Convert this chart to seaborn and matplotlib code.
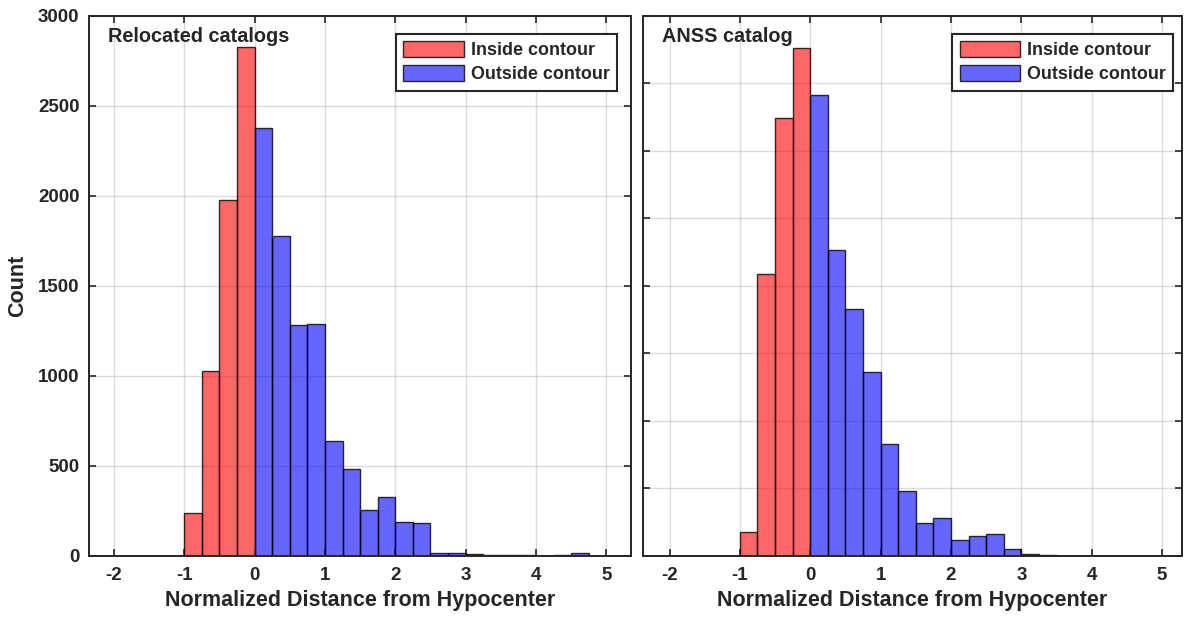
import numpy as np
import pandas as pd
import matplotlib.pyplot as plt
import seaborn as sns
from matplotlib.patches import Patch

sns.set_style("ticks")
plt.rcParams['font.family'] = ['Liberation Sans', 'DejaVu Sans']
plt.rcParams['font.weight'] = 'bold'
plt.rcParams['axes.labelweight'] = 'bold'
plt.rcParams['axes.unicode_minus'] = False

# histogram bins (normalized distance, width 0.25)
bin_width = 0.25
inside_edges = np.arange(-2.0, 0.0 + 1e-9, bin_width)
reloc_outside_edges = np.arange(0.0, 5.0 + 1e-9, bin_width)
anss_outside_edges = np.arange(0.0, 3.5 + 1e-9, bin_width)

# counts
reloc_inside = [0, 0, 0, 0, 240, 1025, 1980, 2830]
reloc_outside = [2375, 1780, 1285, 1290, 640, 485, 255, 330, 190, 185,
                 15, 18, 10, 8, 6, 3, 1, 6, 14, 1]
anss_inside = [0, 0, 0, 0, 175, 2090, 3245, 3765]
anss_outside = [3415, 2265, 1830, 1360, 830, 480, 245, 280, 120, 145,
                160, 50, 12, 4]

titles = ["Relocated catalogs", "ANSS catalog"]
legend_labels = ["Inside contour", "Outside contour"]
xticks = [-2, -1, 0, 1, 2, 3, 4, 5]

red_face = (1, 0, 0, 0.6)
blue_face = (0, 0, 1, 0.6)
edge = (0, 0, 0, 0.8)


def draw_hist(ax, counts, edges, face):
    df = pd.DataFrame({"dist": edges[:-1] + bin_width / 2, "n": counts})
    sns.histplot(data=df, x="dist", weights="n", bins=list(edges), ax=ax,
                 facecolor=face, edgecolor=edge, linewidth=1.0, zorder=2)


def style_axes(ax, yticks, ylim, xlim, show_ylabels):
    ax.set_xlim(*xlim)
    ax.set_ylim(*ylim)
    ax.set_xticks(xticks)
    ax.set_yticks(yticks)
    ax.set_axisbelow(True)
    ax.grid(True, color='0.55', alpha=0.3, linewidth=1.0)
    ax.tick_params(direction='in', top=True, right=True, length=5, width=1.2,
                   labelsize=13.5, color='#262626')
    ax.tick_params(axis='x', pad=8)
    ax.tick_params(axis='y', pad=7)
    if not show_ylabels:
        ax.set_yticklabels([])
    for s in ax.spines.values():
        s.set_linewidth(1.4)
        s.set_color('#262626')
    ax.set_xlabel("Normalized Distance from Hypocenter", fontsize=15.5, labelpad=4)


fig = plt.figure(figsize=(11.87, 6.21), dpi=100)
ax1 = fig.add_axes([0.0752, 0.1047, 0.4564, 0.8696])
ax2 = fig.add_axes([0.5415, 0.1047, 0.4541, 0.8696])

draw_hist(ax1, reloc_inside, inside_edges, red_face)
draw_hist(ax1, reloc_outside, reloc_outside_edges, blue_face)
draw_hist(ax2, anss_inside, inside_edges, red_face)
draw_hist(ax2, anss_outside, anss_outside_edges, blue_face)

style_axes(ax1, np.arange(0, 3001, 500), (0, 3000), (-2.35, 5.35), True)
style_axes(ax2, np.arange(0, 4001, 500), (0, 4000), (-2.38, 5.28), False)

ax1.set_ylabel("Count", fontsize=15.5)
ax1.yaxis.set_label_coords(-0.112, 0.5)
ax2.set_ylabel("")

handles = [Patch(facecolor=red_face, edgecolor=edge, linewidth=1.0),
           Patch(facecolor=blue_face, edgecolor=edge, linewidth=1.0)]
for ax, title, anchor in [(ax1, titles[0], (0.974, 0.967)),
                          (ax2, titles[1], (0.984, 0.967))]:
    ax.text(0.035, 0.962, title, transform=ax.transAxes, fontsize=14.3,
            fontweight='bold', ha='left', va='center')
    leg = ax.legend(handles, legend_labels, loc='upper right',
                    bbox_to_anchor=anchor, borderaxespad=0, fontsize=12.9,
                    handlelength=3.4, handleheight=1.0, handletextpad=0.35,
                    labelspacing=0.3, borderpad=0.42, fancybox=False,
                    framealpha=1, edgecolor='#262626')
    leg.get_frame().set_linewidth(1.5)

fig.savefig("out.png", dpi=100)
